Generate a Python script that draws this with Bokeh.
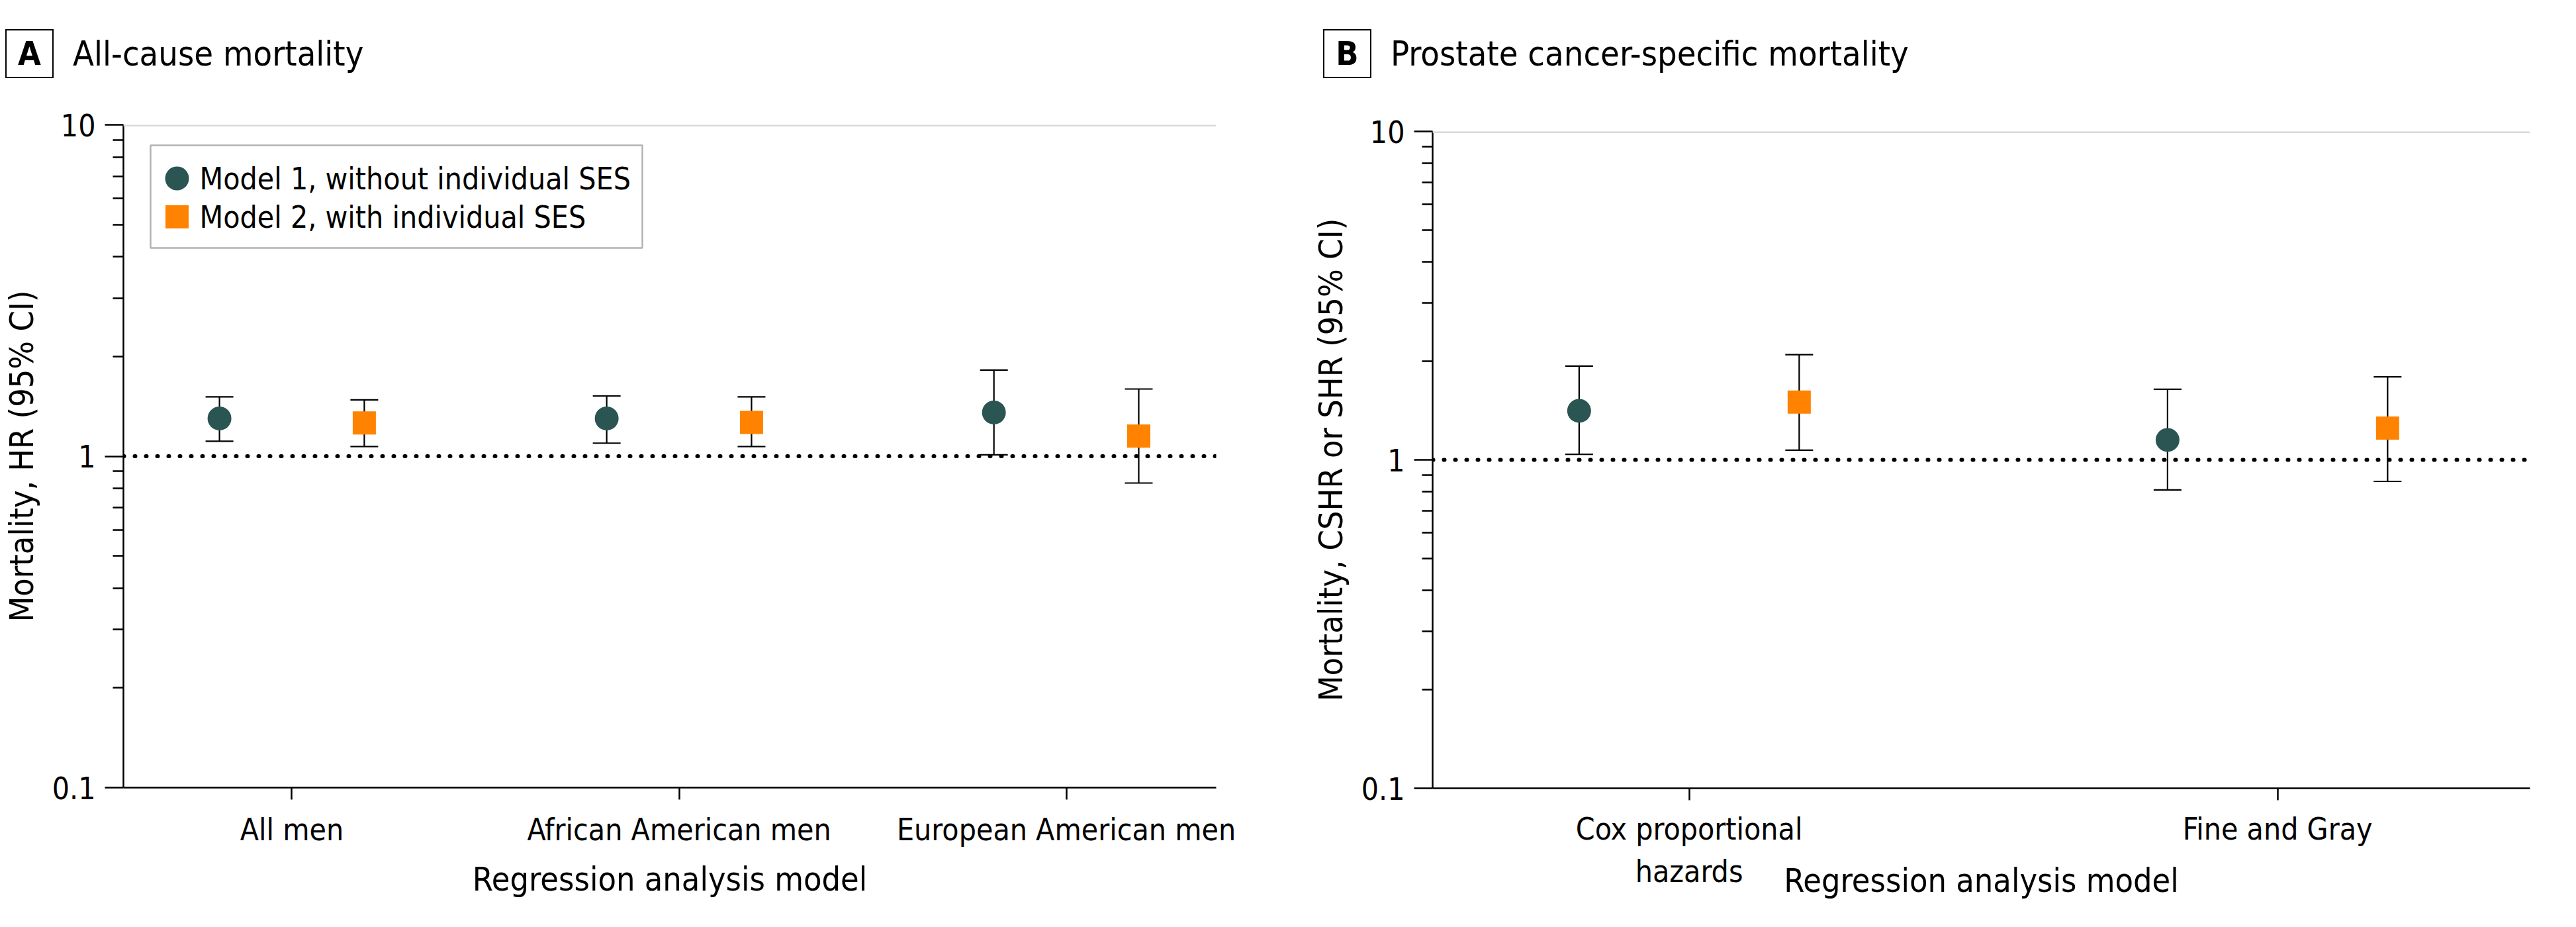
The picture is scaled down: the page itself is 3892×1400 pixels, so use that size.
from bokeh.plotting import figure
from bokeh.models import (ColumnDataSource, Whisker, TeeHead, Span, Label, BoxAnnotation,
                          FixedTicker, CustomJSTickFormatter, Range1d, Div)
from bokeh.layouts import row, column
from bokeh.embed import file_html
from bokeh.resources import INLINE

FONT = "'Liberation Sans Narrow', 'DejaVu Sans Condensed', 'Roboto', sans-serif"
C1 = "#2a5553"
C2 = "#ff8300"

# ---------------- data ----------------
series_labels = ["Model 1, without individual SES", "Model 2, with individual SES"]
y_ticks = [0.1, 1, 10]

a_groups = ["All men", "African American men", "European American men"]
a_m1_hr = [1.30, 1.30, 1.355]
a_m1_lo = [1.11, 1.095, 1.01]
a_m1_hi = [1.51, 1.52, 1.82]
a_m2_hr = [1.26, 1.265, 1.15]
a_m2_lo = [1.07, 1.07, 0.83]
a_m2_hi = [1.48, 1.51, 1.595]

b_groups = ["Cox proportional\nhazards", "Fine and Gray"]
b_m1_hr = [1.41, 1.15]
b_m1_lo = [1.04, 0.81]
b_m1_hi = [1.93, 1.64]
b_m2_hr = [1.50, 1.25]
b_m2_lo = [1.07, 0.86]
b_m2_hi = [2.09, 1.79]

OFF = 0.187
HEAD_H = 130


def make_panel(groups, m1, m2, ylabel, geo, legend=False):
    n = len(groups)
    x0, x1 = geo["xr"]
    fw, fh = geo["fw"], geo["fh"]
    p = figure(frame_width=fw, frame_height=fh,
               min_border_left=geo["bl"], min_border_right=geo["br"],
               min_border_top=geo["bt"], min_border_bottom=geo["bb"],
               x_range=Range1d(x0, x1), y_range=Range1d(0.1, 10),
               y_axis_type="log", output_backend="svg", toolbar_location=None,
               background_fill_color="white", border_fill_color="white")
    p.outline_line_color = None
    p.xgrid.visible = False
    p.ygrid.visible = False

    minor = [k * 10.0 ** e for e in (-1, 0) for k in range(2, 10)]
    p.yaxis.ticker = FixedTicker(ticks=y_ticks, minor_ticks=minor)
    p.yaxis.formatter = CustomJSTickFormatter(code="return tick < 1 ? tick.toFixed(1) : tick.toFixed(0);")
    p.yaxis.axis_label = ylabel
    p.xaxis.axis_label = "Regression analysis model"
    for ax in (p.xaxis[0], p.yaxis[0]):
        ax.axis_line_width = 2.5
        ax.axis_line_color = "black"
        ax.major_tick_line_width = 2.5
        ax.major_tick_line_color = "black"
        ax.minor_tick_line_width = 2.5
        ax.minor_tick_line_color = "black"
        ax.major_tick_in = 0
        ax.minor_tick_in = 0
        ax.major_label_text_font = FONT
        ax.major_label_text_font_size = "46px"
        ax.major_label_text_color = "black"
        ax.axis_label_text_font = FONT
        ax.axis_label_text_font_style = "normal"
        ax.axis_label_text_color = "black"
    p.yaxis.axis_label_text_font_size = "50px"
    p.xaxis.axis_label_text_font_size = "50px"
    p.yaxis.major_tick_out = 28
    p.yaxis.minor_tick_out = 16
    p.yaxis.major_label_standoff = 14
    p.yaxis.axis_label_standoff = 14

    xs = list(range(n))
    p.xaxis.ticker = FixedTicker(ticks=xs)
    p.xaxis.major_label_overrides = {i: g for i, g in enumerate(groups)}
    p.xaxis.major_tick_out = 18
    p.xaxis.major_label_standoff = geo["xts"]
    p.xaxis.axis_label_standoff = geo["xls"]

    p.add_layout(Span(location=10, dimension="width", line_color="#d9d9d9", line_width=5))
    p.add_layout(Span(location=1, dimension="width", line_color="black", line_width=6,
                      line_dash="1 16", line_cap="round"))

    for vals, off, marker, color, size in [(m1, -OFF, "circle", C1, 36), (m2, OFF, "square", C2, 35)]:
        hr, lo, hi = vals
        src = ColumnDataSource(dict(x=[i + off for i in xs], hr=hr, lo=lo, hi=hi))
        w = Whisker(source=src, base="x", upper="hi", lower="lo", dimension="height",
                    line_color="black", line_width=2.2,
                    upper_head=TeeHead(size=42, line_width=2.2, line_color="black"),
                    lower_head=TeeHead(size=42, line_width=2.2, line_color="black"))
        w.level = "underlay"
        p.add_layout(w)
        p.scatter("x", "hr", source=src, marker=marker, size=size,
                  fill_color=color, line_color=None)

    if legend:
        lg = geo["legend"]
        p.add_layout(BoxAnnotation(left=lg["l"], right=lg["r"], bottom=fh - lg["b"], top=fh - lg["t"],
                                   left_units="screen", right_units="screen",
                                   bottom_units="screen", top_units="screen",
                                   fill_color=None, fill_alpha=0, line_color="black", line_width=2.5,
                                   level="annotation"))
        upx = fw / (x1 - x0)
        dec = fh / 2.0
        mx = x0 + lg["mx"] / upx
        for j, (lab, marker, color, size) in enumerate(zip(series_labels, ["circle", "square"],
                                                          [C1, C2], [36, 35])):
            ry = lg["rows"][j]
            yv = 10 ** (1 - ry / dec)
            p.scatter([mx], [yv], marker=marker, size=size, fill_color=color, line_color=None)
            p.add_layout(Label(x=lg["tx"], y=fh - ry, x_units="screen", y_units="screen",
                               text=lab, text_font=FONT, text_font_size="46px",
                               text_baseline="middle", text_color="black"))
    return p


def make_header(letter, title, width, left):
    html = (
        f'<div style="position:relative;width:{width}px;height:{HEAD_H}px;font-family:{FONT};color:black;">'
        f'<div style="position:absolute;left:{left}px;top:44px;height:74px;display:flex;align-items:center;">'
        f'<div style="box-sizing:border-box;flex:0 0 73px;width:73px;height:74px;border:2.5px solid black;'
        f'display:flex;align-items:center;justify-content:center;font-weight:bold;font-size:50px;line-height:1;">'
        f'{letter}</div>'
        f'<div style="margin-left:29px;font-size:52px;line-height:1;white-space:nowrap;">{title}</div>'
        f'</div></div>'
    )
    return Div(text=html, width=width, height=HEAD_H, margin=(0, 0, 0, 0))


geo_a = dict(xr=(-0.435, 2.387), fw=1651, fh=1001, bl=174, br=107, bt=196 - 8 - HEAD_H, bb=190,
             xts=18, xls=16,
             legend=dict(l=41, r=784, t=31, b=186, mx=81, rows=[81, 139], tx=115))
geo_b = dict(xr=(-0.436, 1.429), fw=1658, fh=992, bl=220, br=66, bt=206 - 8 - HEAD_H, bb=186,
             xts=16, xls=-45)

pa = make_panel(a_groups, (a_m1_hr, a_m1_lo, a_m1_hi), (a_m2_hr, a_m2_lo, a_m2_hi),
                "Mortality, HR (95% CI)", geo_a, legend=True)
pb = make_panel(b_groups, (b_m1_hr, b_m1_lo, b_m1_hi), (b_m2_hr, b_m2_lo, b_m2_hi),
                "Mortality, CSHR or SHR (95% CI)", geo_b)

ha = make_header("A", "All-cause mortality", 1932, 8)
hb = make_header("B", "Prostate cancer-specific mortality", 1944, 55)

layout = row(column(ha, pa, spacing=0), column(hb, pb, spacing=0), spacing=0)
open("out.html", "w").write(file_html(layout, INLINE))
